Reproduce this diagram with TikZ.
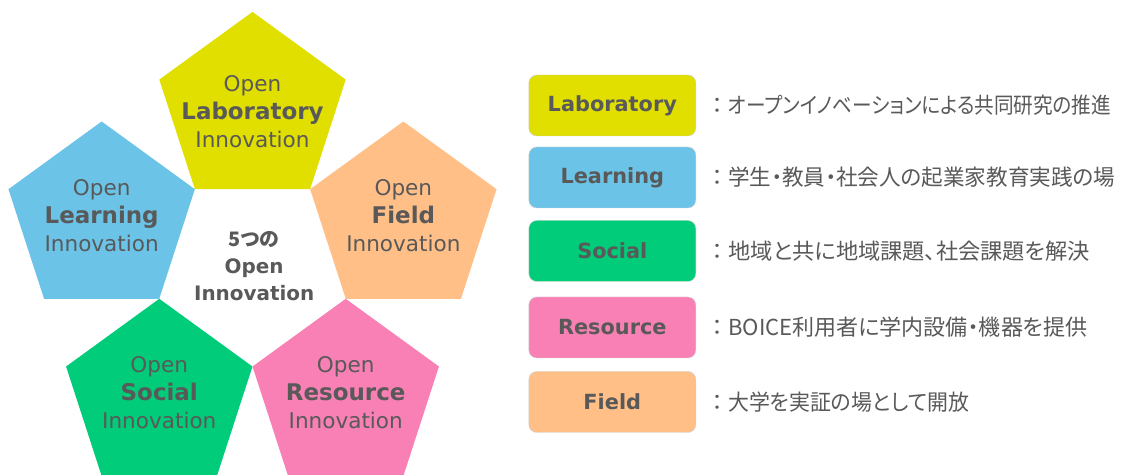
\documentclass[tikz,border=0pt]{standalone}
\usepackage{fontspec}
\setmainfont{DejaVu Sans}
\newfontfamily\jpfont[RawFeature=+palt]{Noto Sans CJK JP}
\usepackage{graphicx}
\usepackage{tikz}
\usetikzlibrary{shapes.geometric, positioning}
\usepackage{xcolor}
\definecolor{labY}{HTML}{E0DF00}
\definecolor{learnB}{HTML}{6BC3E7}
\definecolor{socialG}{HTML}{00CC7A}
\definecolor{resP}{HTML}{F880B4}
\definecolor{fieldO}{HTML}{FFBF87}
\definecolor{ink}{HTML}{595959}
\newcommand{\bigword}[1]{{\fontsize{19.6}{23.9}\selectfont\bfseries #1}}
\tikzset{
  penta/.style={regular polygon, regular polygon sides=5,
                minimum size=58.8mm, inner sep=0pt, outer sep=0pt},
  pentatext/.style={align=center, text=ink, inner sep=0pt,
                    font=\fontsize{18.4}{23.9}\selectfont},
  keybox/.style={rectangle, rounded corners=2.4mm, draw=black!18,
                 minimum width=50.1mm, minimum height=18.3mm, text=ink,
                 font=\fontsize{17.8}{20}\selectfont\bfseries},
  keytext/.style={inner sep=0pt, text=ink,
                  font=\jpfont\fontsize{18.8}{20}\selectfont},
}

\begin{document}
\begin{tikzpicture}[x=0.3mm, y=0.3mm, node distance=4.8mm]
  \useasboundingbox (0,0) rectangle (1123,475);

  %% Five pentagons round the centre
  \coordinate (ctr) at (252.5,206.5);
  \foreach \name/\ang/\col/\dy/\word in {lab/90/labY/-0.5/Laboratory,
                                         learn/162/learnB/1.2/Learning,
                                         field/18/fieldO/1.2/Field,
                                         social/234/socialG/1.3/Social,
                                         res/306/resP/1.3/Resource}{
    \path (ctr) ++(\ang:158.6) node[penta, fill=\col] (\name) {};
    \node[pentatext] (\name-t) at ([yshift=\dy mm]\name.center)
      {Open\\\bigword{\word}\\Innovation};
  }

  %% Centre label
  \node[pentatext, font=\fontsize{17}{23}\selectfont\bfseries] (core)
    at ([xshift=0.5mm, yshift=0.75mm]ctr) {{\jpfont 5つの}\\Open\\Innovation};

  %% Key
  \foreach \name/\y/\col/\word/\sx/\note in {
      lab/369.5/labY/Laboratory/0.89/オープンイノベーションによる共同研究の推進,
      learn/297.5/learnB/Learning/0.98/学生・教員・社会人の起業家教育実践の場,
      social/224/socialG/Social/1.01/地域と共に地域課題、社会課題を解決,
      res/147.5/resP/Resource/1/BOICE利用者に学内設備・機器を提供,
      field/73/fieldO/Field/0.95/大学を実証の場として開放}{
    \node[keybox, fill=\col] (k\name) at (612.3,\y) {\word};
    \node[keytext, right=of k\name] (n\name)
      {：\hspace{1.5mm}\scalebox{\sx}[1]{\note}};
  }

\end{tikzpicture}
\end{document}
